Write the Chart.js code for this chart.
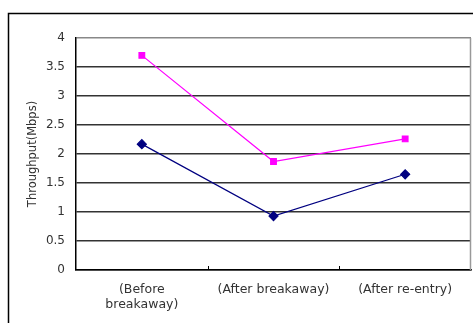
<!DOCTYPE html>
<html lang="en">
<head>
<meta charset="UTF-8">
<title>Throughput</title>
<script src="https://cdn.jsdelivr.net/npm/chart.js"></script>
<style>
  html, body { margin: 0; padding: 0; background: #fff; }
  #wrap { width: 473px; height: 323px; }
</style>
</head>
<body>
<div id="wrap"><canvas id="chart" width="473" height="323"></canvas></div>
<script>
const categories = [["(Before", "breakaway)"], "(After breakaway)", "(After re-entry)"];
const pinkValues = [3.7, 1.87, 2.26];
const navyValues = [2.17, 0.93, 1.65];
const yTicks = [0, 0.5, 1, 1.5, 2, 2.5, 3, 3.5, 4];

// outer frame + right border of plot + inside tick marks on the x axis
const framePlugin = {
  id: 'frame',
  beforeDraw(chart) {
    const c = chart.ctx;
    c.save();
    c.fillStyle = '#fff';
    c.fillRect(0, 0, chart.width, chart.height);
    c.strokeStyle = '#000';
    c.lineWidth = 1.5;
    c.beginPath();
    c.moveTo(8.5, chart.height + 2);
    c.lineTo(8.5, 13.5);
    c.lineTo(chart.width + 2, 13.5);
    c.stroke();
    c.restore();
  },
  beforeDatasetsDraw(chart) {
    const c = chart.ctx;
    const a = chart.chartArea;
    const x = chart.scales.x;
    c.save();
    c.strokeStyle = '#999';
    c.lineWidth = 1.5;
    c.beginPath();
    c.moveTo(a.right - 0.5, a.top);
    c.lineTo(a.right - 0.5, a.bottom);
    c.stroke();
    c.strokeStyle = '#000';
    c.lineWidth = 1;
    c.beginPath();
    for (let i = 0; i < categories.length - 1; i++) {
      const px = Math.round((x.getPixelForValue(i) + x.getPixelForValue(i + 1)) / 2) + 0.5;
      c.moveTo(px, a.bottom);
      c.lineTo(px, a.bottom - 4);
    }
    c.stroke();
    c.restore();
  }
};

new Chart(document.getElementById('chart'), {
  type: 'line',
  data: {
    labels: categories,
    datasets: [{
      label: 'A',
      data: pinkValues,
      borderColor: '#ff00ff',
      backgroundColor: '#ff00ff',
      borderWidth: 1.2,
      pointStyle: 'rect',
      pointRadius: 4,
      fill: false,
      tension: 0
    }, {
      label: 'B',
      data: navyValues,
      borderColor: '#000080',
      backgroundColor: '#000080',
      borderWidth: 1.2,
      pointStyle: 'rectRot',
      pointRadius: 4.5,
      fill: false,
      tension: 0
    }]
  },
  options: {
    responsive: false,
    animation: false,
    layout: { autoPadding: false, padding: { left: 0, top: 38, right: 2, bottom: 0 } },
    plugins: { legend: { display: false }, tooltip: { enabled: false } },
    scales: {
      x: {
        offset: true,
        afterFit(s) { s.height = 53; s.paddingLeft = 0; s.paddingRight = 0; },
        grid: { display: false, drawTicks: false },
        border: { display: true, color: '#000', width: 1.5 },
        ticks: { color: '#333', padding: 12, font: { family: 'DejaVu Sans', size: 12.5 }, maxRotation: 0, autoSkip: false }
      },
      y: {
        min: 0,
        max: 4,
        afterFit(s) { s.width = 76; s.paddingTop = 0; s.paddingBottom = 0; },
        afterBuildTicks(s) { s.ticks = yTicks.map(v => ({ value: v })); },
        grid: {
          drawTicks: false,
          lineWidth: 1.5,
          color: ctx => ctx.tick && ctx.tick.value === 4 ? '#888' : '#333'
        },
        border: { display: true, color: '#000', width: 1.5 },
        ticks: {
          color: '#333',
          padding: 11,
          font: { family: 'DejaVu Sans', size: 12 },
          callback: v => String(v)
        },
        title: {
          display: true,
          text: 'Throughput(Mbps)',
          color: '#333',
          font: { family: 'DejaVu Sans', size: 11.5 },
          padding: { top: 26, bottom: 0 }
        }
      }
    }
  },
  plugins: [framePlugin]
});
</script>
</body>
</html>
